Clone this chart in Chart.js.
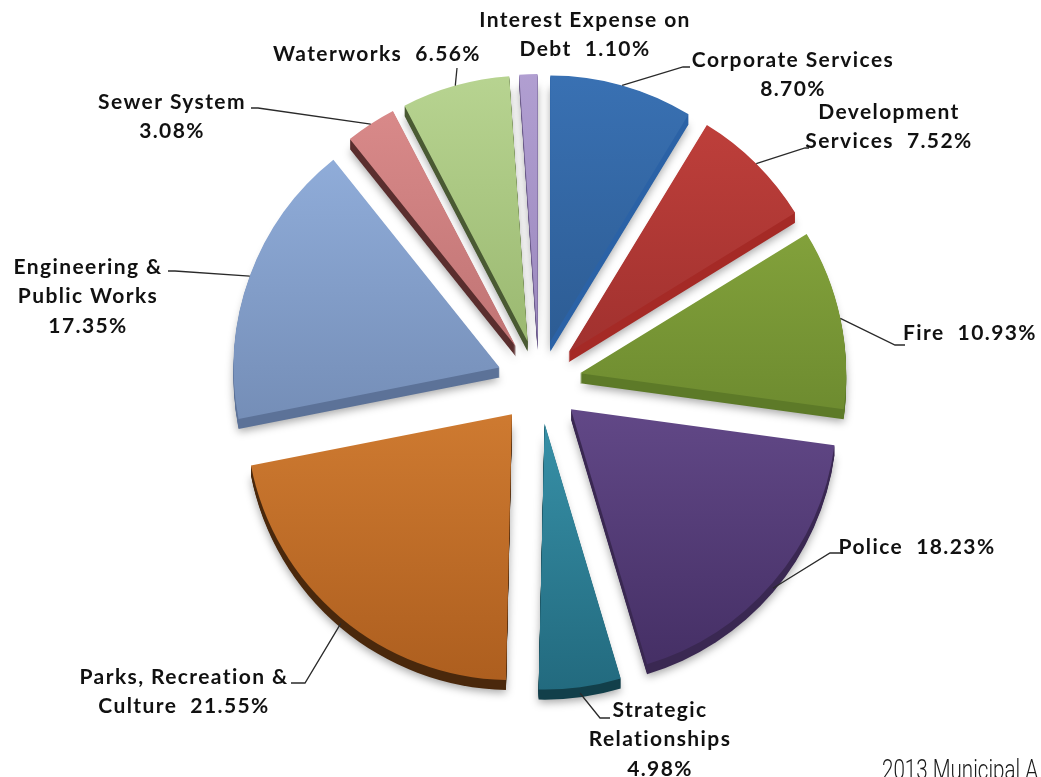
<!DOCTYPE html>
<html>
<head>
<meta charset="utf-8">
<title>2013 Municipal Expenditures</title>
<script src="https://cdn.jsdelivr.net/npm/chart.js@4.4.1/dist/chart.umd.min.js"></script>
<style>
body { margin: 0; background: #fff; }
canvas { display: block; }
</style>
</head>
<body>
<canvas id="myChart" width="1041" height="777"></canvas>
<script>
var departments = ['Corporate Services', 'Development Services', 'Fire', 'Police', 'Strategic Relationships',
    'Parks, Recreation & Culture', 'Engineering & Public Works', 'Sewer System', 'Waterworks', 'Interest Expense on Debt'];
var percents = [8.70, 7.52, 10.93, 18.23, 4.98, 21.55, 17.35, 3.08, 6.56, 1.10];

// label text split in lines, the percentage goes on the end of the last line
var labelLines = [
    ['Corporate Services', ''],
    ['Development', 'Services  '],
    ['Fire  '],
    ['Police  '],
    ['Strategic', 'Relationships', ''],
    ['Parks, Recreation &', 'Culture  '],
    ['Engineering &', 'Public Works', ''],
    ['Sewer System', ''],
    ['Waterworks  '],
    ['Interest Expense on', 'Debt  ']
];

// where each label block sits (centre x, first line y) and the bend of its leader line
var labelPos = [
    {x: 793, y: 60, bend: [[683, 67], [690, 67]]},
    {x: 889, y: 112, bend: [[805, 148], [809, 148]]},
    {x: 970, y: 333, bend: [[895, 345], [905, 345]]},
    {x: 917, y: 547, bend: [[830, 553], [840, 553]]},
    {x: 660, y: 710, bend: [[600, 718], [610, 718]]},
    {x: 184, y: 677, bend: [[305, 683], [291, 683]]},
    {x: 88, y: 267, bend: [[175, 271], [168, 271]]},
    {x: 172, y: 102, bend: [[258, 108], [251, 108]]},
    {x: 377, y: 54, bend: [[457, 68]]},
    {x: 585, y: 20, bend: null}
];

var topColors = ['#3b74b8', '#c8443f', '#96b646', '#8466b0', '#4fbcd6', '#f49a45', '#9ab8e6', '#e09090', '#bcd896', '#b4a2d4'];
var bottomColors = ['#1f4570', '#7a1e1e', '#4e6a1e', '#3f2a5e', '#1f6478', '#a85a1c', '#5a7096', '#a05858', '#7a9a4c', '#8470a8'];
var sideColors = ['#2b62a6', '#a52a26', '#5d7a28', '#3a2852', '#123f4a', '#4a280c', '#5c7298', '#5a2e2e', '#4a5a33', '#6a5a88'];

var explode = 42;
var depth = 10;

function sliceShift(arc) {
    var mid = (arc.startAngle + arc.endAngle) / 2;
    return {x: Math.cos(mid) * explode, y: Math.sin(mid) * explode, mid: mid};
}

function slicePath(ctx, arc, dx, dy) {
    ctx.beginPath();
    ctx.moveTo(arc.x + dx, arc.y + dy);
    ctx.arc(arc.x + dx, arc.y + dy, arc.outerRadius, arc.startAngle, arc.endAngle);
    ctx.closePath();
}

// pulls the slices apart and gives them a thick side wall
var explodedPie = {
    id: 'explodedPie',
    beforeDatasetsDraw: function(chart) {
        var ctx = chart.ctx;
        var arcs = chart.getDatasetMeta(0).data;

        arcs.forEach(function(arc, i) {
            var s = sliceShift(arc);
            ctx.save();
            ctx.fillStyle = sideColors[i];
            ctx.shadowColor = 'rgba(0,0,0,0.35)';
            ctx.shadowBlur = 8;
            ctx.shadowOffsetY = 3;
            slicePath(ctx, arc, s.x, s.y + depth);
            ctx.fill();
            ctx.shadowColor = 'transparent';
            for (var d = 1; d < depth; d++) {
                slicePath(ctx, arc, s.x, s.y + d);
                ctx.fill();
            }
            ctx.restore();
        });

        arcs.forEach(function(arc) {
            var s = sliceShift(arc);
            ctx.save();
            ctx.translate(s.x, s.y);
            arc.draw(ctx);
            ctx.restore();
        });
        return false;
    }
};

var leaderLabels = {
    id: 'leaderLabels',
    afterDraw: function(chart) {
        var ctx = chart.ctx;
        var arcs = chart.getDatasetMeta(0).data;
        ctx.save();
        ctx.strokeStyle = '#2a2a2a';
        ctx.lineWidth = 1.3;
        arcs.forEach(function(arc, i) {
            var p = labelPos[i];
            if (!p.bend) return;
            var s = sliceShift(arc);
            var r = arc.outerRadius;
            var sx = arc.x + s.x + Math.cos(s.mid) * r;
            var sy = arc.y + s.y + Math.sin(s.mid) * r;
            if (Math.sin(s.mid) > 0.5) sy += depth * 0.6;
            ctx.beginPath();
            ctx.moveTo(sx, sy);
            p.bend.forEach(function(pt) { ctx.lineTo(pt[0], pt[1]); });
            ctx.stroke();
        });

        ctx.fillStyle = '#111';
        ctx.font = 'bold 21px Lato';
        ctx.letterSpacing = '1.4px';
        ctx.textAlign = 'center';
        ctx.textBaseline = 'middle';
        labelLines.forEach(function(lines, i) {
            var p = labelPos[i];
            lines.forEach(function(txt, j) {
                if (j == lines.length - 1) txt = txt + percents[i].toFixed(2) + '%';
                ctx.fillText(txt, p.x, p.y + j * 29.5);
            });
        });

        // footer caption, squeezed to a condensed look
        var caption = '2013 Municipal A';
        ctx.letterSpacing = '0px';
        ctx.font = '300 27px Roboto';
        ctx.fillStyle = '#1a1a1a';
        ctx.textAlign = 'left';
        ctx.textBaseline = 'alphabetic';
        var squeeze = 156 / ctx.measureText(caption).width;
        ctx.translate(882, 779);
        ctx.scale(squeeze, 1);
        ctx.fillText(caption, 0, 0);
        ctx.restore();
    }
};

var ctx = document.getElementById('myChart').getContext('2d');
var chart = new Chart(ctx, {
    type: 'pie',
    data: {
        labels: departments,
        datasets: [{
            data: percents,
            borderWidth: 0,
            backgroundColor: function(c) {
                var area = c.chart.chartArea;
                if (!area) return topColors[c.dataIndex];
                var cy = (area.top + area.bottom) / 2;
                var g = c.chart.ctx.createLinearGradient(0, cy - 310, 0, cy + 310);
                g.addColorStop(0, topColors[c.dataIndex]);
                g.addColorStop(1, bottomColors[c.dataIndex]);
                return g;
            }
        }]
    },
    options: {
        responsive: false,
        animation: false,
        radius: 266,
        layout: { padding: { left: 40, right: 3, top: 0, bottom: 13 } },
        plugins: {
            legend: { display: false },
            tooltip: { enabled: false }
        }
    },
    plugins: [explodedPie, leaderLabels]
});
</script>
</body>
</html>
